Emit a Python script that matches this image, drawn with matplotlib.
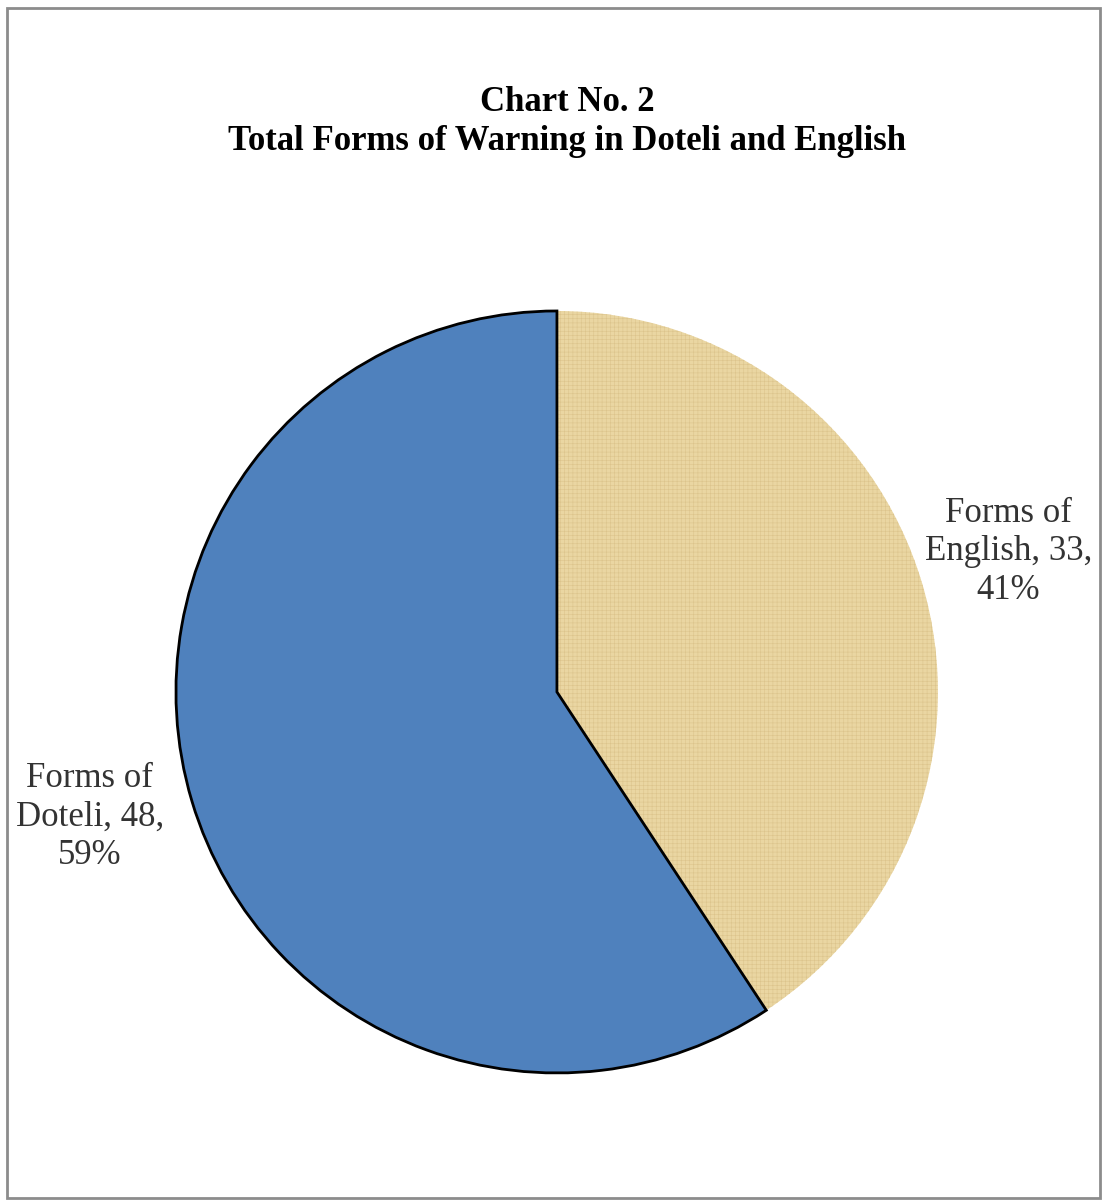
import matplotlib
matplotlib.use("Agg")
from matplotlib import pyplot as plt
from matplotlib.patches import Rectangle

# dados do gráfico
categorias = ["Forms of English", "Forms of Doteli"]
valores = [33, 48]
percentuais = [41, 59]
cores = ["#EAD6A2", "#4F81BD"]
titulo = "Chart No. 2\nTotal Forms of Warning in Doteli and English"

plt.rcParams["font.family"] = ["Liberation Serif", "DejaVu Serif"]
plt.rcParams["hatch.color"] = "#DCC48C"  # textura leve tipo papiro
plt.rcParams["hatch.linewidth"] = 0.4

fig = plt.figure(figsize=(11.08, 12.01), dpi=100)
fig.patch.set_facecolor("white")

# moldura externa
fig.add_artist(Rectangle((7 / 1108, 3 / 1201), 1093 / 1108, 1190 / 1201,
                         transform=fig.transFigure, fill=False,
                         edgecolor="#8c8c8c", linewidth=2))

ax = fig.add_axes([0.1588, 0.1066, 0.6877, 0.6345])

rotulos = [c.replace("of ", "of\n") + f", {v},\n{p}%"
           for c, v, p in zip(categorias, valores, percentuais)]

fatias, textos = ax.pie(valores, colors=cores, startangle=90, counterclock=False,
                        labels=rotulos, labeldistance=1.25,
                        textprops=dict(fontsize=25, color="#333333", linespacing=1.22))
# pequeno ajuste fino dos rótulos
ajustes = [(-0.013, 0.010), (-0.029, 0.030)]
for t, (dx, dy) in zip(textos, ajustes):
    x, y = t.get_position()
    t.set_position((x + dx, y + dy))
    t.set_ha("center")
    t.set_va("center")

# só a fatia azul tem contorno preto
fatias[0].set_edgecolor(None)
fatias[0].set_hatch("++++")
fatias[1].set_edgecolor("black")
fatias[1].set_linewidth(2)

ax.set_xlim(-1, 1)
ax.set_ylim(-1, 1)
ax.set_aspect("equal")
ax.axis("off")

fig.text(0.512, 0.8988, titulo, ha="center", va="center", fontsize=25,
         fontweight="bold", linespacing=1.24)

fig.savefig("out.png", dpi=100)
